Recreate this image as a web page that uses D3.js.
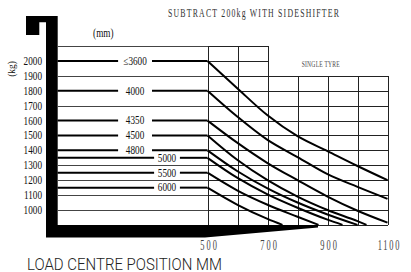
<!DOCTYPE html>
<html>
<head>
<meta charset="utf-8">
<script src="https://cdn.jsdelivr.net/npm/d3@7"></script>
<style>
  html, body { margin: 0; padding: 0; background: #fff; }
  svg { display: block; }
</style>
</head>
<body>
<div id="chart"></div>
<script>
// Load chart: rated load (kg) vs load centre (mm), one curve per lift height.

const liftHeights = ["≤3600", "4000", "4350", "4500", "4800", "5000", "5500", "6000"]
const ratedLoads = [2000, 1800, 1600, 1500, 1400, 1350, 1250, 1150]
// [load centre mm, load kg]
const curves = [
  [[500, 2000], [600, 1815], [700, 1635], [800, 1495], [900, 1395], [1000, 1295], [1100, 1200]],
  [[500, 1800], [600, 1625], [700, 1470], [800, 1355], [900, 1240], [1000, 1155], [1100, 1075]],
  [[500, 1600], [600, 1450], [700, 1315], [800, 1200], [900, 1090], [1000, 995], [1100, 915]],
  [[500, 1500], [600, 1335], [700, 1200], [800, 1090], [900, 1000], [1000, 925], [1030, 900]],
  [[500, 1400], [600, 1260], [700, 1145], [800, 1050], [900, 970], [1000, 900]],
  [[500, 1350], [600, 1215], [700, 1105], [800, 1015], [900, 935], [950, 900]],
  [[500, 1250], [600, 1130], [700, 1035], [800, 955], [870, 900]],
  [[500, 1150], [600, 1035], [700, 940], [750, 900]],
]
const yTicks = [1000, 1100, 1200, 1300, 1400, 1500, 1600, 1700, 1800, 1900, 2000]
const xTicks = [500, 700, 900, 1100]
const gridX = [500, 600, 700, 800, 900, 1000, 1100]
const gridY = [900, 1000, 1100, 1200, 1300, 1400, 1500, 1600, 1700, 1800, 1900]
const gridYTop = [2000, 2100]
const leftThin = [2100, 1900, 1700, 1300, 1200, 1100, 1000]

const W = 411, H = 272
const x = d3.scaleLinear().domain([0, 1100]).range([57.5, 387.5])
const y = d3.scaleLinear().domain([900, 2100]).range([224.9, 46])

const svg = d3.select("#chart").append("svg")
  .attr("width", W).attr("height", H)
  .style("background", "#fff")

const serif = "'Liberation Serif', 'Times New Roman', serif"

// texte condensé : on écrase horizontalement
function condText(px, py, str, size, sx, anchor) {
  return svg.append("text")
    .attr("transform", `translate(${px},${py}) scale(${sx},1)`)
    .attr("text-anchor", anchor || "start")
    .attr("font-family", serif).attr("font-size", size)
    .attr("fill", "#111")
    .text(str)
}

// texte étroit et espacé, largeur totale imposée (px écran)
function spacedText(px, py, str, size, sx, len, fill) {
  return svg.append("text")
    .attr("transform", `translate(${px},${py}) scale(${sx},1)`)
    .attr("font-family", serif).attr("font-size", size).attr("fill", fill)
    .attr("textLength", len / sx).attr("lengthAdjust", "spacing")
    .text(str)
}

// --- grille fine ---
const grid = svg.append("g")
  .attr("stroke", "#222").attr("stroke-width", 1)
  .attr("shape-rendering", "crispEdges")

grid.selectAll("line.h").data(gridY).join("line")
  .attr("x1", x(500)).attr("x2", x(1100))
  .attr("y1", d => Math.round(y(d)) + 0.5).attr("y2", d => Math.round(y(d)) + 0.5)

grid.selectAll("line.ht").data(gridYTop).join("line")
  .attr("x1", x(500)).attr("x2", x(700))
  .attr("y1", d => Math.round(y(d)) + 0.5).attr("y2", d => Math.round(y(d)) + 0.5)

grid.selectAll("line.hl").data(leftThin).join("line")
  .attr("x1", x(0)).attr("x2", x(500))
  .attr("y1", d => Math.round(y(d)) + 0.5).attr("y2", d => Math.round(y(d)) + 0.5)
  .attr("stroke", "#444")

grid.selectAll("line.v").data(gridX).join("line")
  .attr("x1", d => Math.round(x(d)) + 0.5).attr("x2", d => Math.round(x(d)) + 0.5)
  .attr("y1", y(900))
  .attr("y2", d => d <= 700 ? y(2100) : y(1900))

// --- courbes de capacité ---
const line = d3.line().x(d => x(d[0])).y(d => y(d[1])).curve(d3.curveMonotoneX)

svg.append("g").selectAll("path").data(curves).join("path")
  .attr("d", line)
  .attr("fill", "none").attr("stroke", "#000").attr("stroke-width", 2)

// segments horizontaux à gauche, interrompus par l'étiquette
ratedLoads.forEach((kg, i) => {
  const late = i >= 5
  const gap = late ? [322, 408] : [202, 315]
  const yy = y(kg)
  const segs = [[0, gap[0]], [gap[1], 500]]
  segs.forEach(([a, b]) => {
    svg.append("line")
      .attr("x1", x(a)).attr("x2", x(b)).attr("y1", yy).attr("y2", yy)
      .attr("stroke", "#000").attr("stroke-width", 2)
  })
  condText(x((gap[0] + gap[1]) / 2), yy + 3.8, liftHeights[i], 11.5, 0.8, "middle")
})

// --- cadre noir en L ---
svg.append("path")
  .attr("d", `M26,16 L57.7,16 L57.7,${y(900)} L318,${y(900)} L318,227.5 L205,237.5 L46,237.5
              L46,22.3 L39.3,22.3 L39.3,35 L26,35 Z`)
  .attr("fill", "#000")

// --- axe Y ---
yTicks.forEach(v => condText(42, y(v) + 4, v, 11.5, 0.8, "end"))

svg.append("text")
  .attr("transform", "translate(14.5,69) rotate(-90) scale(0.85,1)")
  .attr("text-anchor", "middle")
  .attr("font-family", serif).attr("font-size", 11).attr("fill", "#111")
  .text("(kg)")

condText(103.3, 37, "(mm)", 11.5, 0.8, "middle")

// --- axe X ---
xTicks.forEach(v => {
  const len = v >= 1000 ? 21.7 : 16.7
  spacedText(x(v) + 1 - len / 2, 250, v, 14, 0.6, len, "#444")
})

// --- titres ---
spacedText(168, 17, "SUBTRACT 200kg WITH SIDESHIFTER", 12, 0.65, 171, "#333")
spacedText(301.7, 67, "SINGLE TYRE", 8, 0.7, 38, "#444")

svg.append("text")
  .attr("x", 27).attr("y", 269.5)
  .attr("font-family", "Roboto, 'Open Sans', sans-serif").attr("font-weight", 300)
  .attr("font-size", 16.5).attr("fill", "#222")
  .attr("textLength", 195).attr("lengthAdjust", "spacingAndGlyphs")
  .text("LOAD CENTRE POSITION MM")
</script>
</body>
</html>
